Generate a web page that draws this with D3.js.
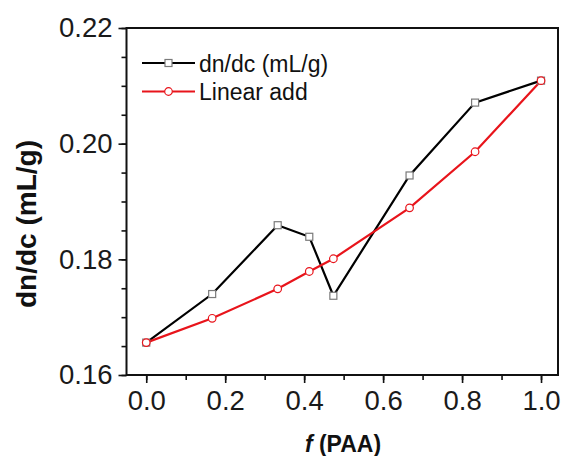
<!DOCTYPE html>
<html>
<head>
<meta charset="utf-8">
<script src="https://cdn.jsdelivr.net/npm/d3@7"></script>
<style>
  body { margin: 0; background: #fff; }
  svg { display: block; font-family: "Liberation Sans", Arial, sans-serif; }
</style>
</head>
<body>
<script>
// values
var fPAA = [0, 0.167, 0.333, 0.413, 0.474, 0.667, 0.833, 1.0];
var dndc = [0.1656, 0.1740, 0.1859, 0.1839, 0.1737, 0.1945, 0.2071, 0.2109];
var linearAdd = [0.1656, 0.1698, 0.1749, 0.1779, 0.1801, 0.1889, 0.1986, 0.2109];
var xTicks = [0, 0.2, 0.4, 0.6, 0.8, 1.0];
var yTicks = [0.16, 0.18, 0.20, 0.22];
var legendNames = ["dn/dc (mL/g)", "Linear add"];

var screen = {width: 563, height: 456};
var plot = {left: 126.5, right: 558, top: 28, bottom: 375};

var x = d3.scaleLinear()
          .domain([-0.05, 1.043])
          .range([plot.left, plot.right]);
var y = d3.scaleLinear()
          .domain([0.16, 0.22])
          .range([plot.bottom, plot.top]);

var svg = d3.select("body")
            .append("svg")
            .attr("width", screen.width)
            .attr("height", screen.height);

// minor ticks
svg.append("g")
   .attr("transform", "translate(0," + plot.bottom + ")")
   .call(d3.axisBottom(x).tickValues(d3.range(0, 1.01, 0.1)).tickSize(5).tickFormat(""))
   .call(function(g) { g.select(".domain").remove(); });
svg.append("g")
   .attr("transform", "translate(" + plot.left + ",0)")
   .call(d3.axisLeft(y).tickValues(d3.range(0.16, 0.2201, 0.005)).tickSize(5).tickFormat(""))
   .call(function(g) { g.select(".domain").remove(); });

// major ticks
var xAxis = svg.append("g")
   .attr("transform", "translate(0," + plot.bottom + ")")
   .call(d3.axisBottom(x).tickValues(xTicks).tickSize(8).tickPadding(7).tickFormat(d3.format(".1f")));
var yAxis = svg.append("g")
   .attr("transform", "translate(" + plot.left + ",0)")
   .call(d3.axisLeft(y).tickValues(yTicks).tickSize(8).tickPadding(6).tickFormat(d3.format(".2f")));

[xAxis, yAxis].forEach(function(a) {
  a.select(".domain").remove();
  a.selectAll("text").attr("font-size", 27.5).attr("fill", "#1a1a1a").attr("font-family", "Liberation Sans, Arial");
});
svg.selectAll(".tick line").attr("stroke", "#111").attr("stroke-width", 1.6);

// frame
svg.append("rect")
   .attr("x", plot.left)
   .attr("y", plot.top)
   .attr("width", plot.right - plot.left)
   .attr("height", plot.bottom - plot.top)
   .attr("fill", "none")
   .attr("stroke", "#111")
   .attr("stroke-width", 2);

var line = d3.line()
             .x(function(d) { return x(d[0]); })
             .y(function(d) { return y(d[1]); });

var blackPts = fPAA.map(function(f, i) { return [f, dndc[i]]; });
var redPts = fPAA.map(function(f, i) { return [f, linearAdd[i]]; });

svg.append("path")
   .attr("d", line(blackPts))
   .attr("fill", "none")
   .attr("stroke", "#000")
   .attr("stroke-width", 2.2);

svg.append("path")
   .attr("d", line(redPts))
   .attr("fill", "none")
   .attr("stroke", "#e8141b")
   .attr("stroke-width", 2.2);

svg.append("g")
   .selectAll("rect")
   .data(blackPts)
   .enter()
   .append("rect")
   .attr("x", function(d) { return x(d[0]) - 3.5; })
   .attr("y", function(d) { return y(d[1]) - 3.5; })
   .attr("width", 7)
   .attr("height", 7)
   .attr("fill", "#fff")
   .attr("stroke", "#7a7a7a")
   .attr("stroke-width", 1.2);

svg.append("g")
   .selectAll("circle")
   .data(redPts)
   .enter()
   .append("circle")
   .attr("cx", function(d) { return x(d[0]); })
   .attr("cy", function(d) { return y(d[1]); })
   .attr("r", 3.8)
   .attr("fill", "#fff")
   .attr("stroke", "#e8141b")
   .attr("stroke-width", 1.2);

// legend
var legend = svg.append("g").attr("transform", "translate(142,63)");
var legendColors = ["#000", "#e8141b"];
legendNames.forEach(function(name, i) {
  var g = legend.append("g").attr("transform", "translate(0," + (i * 28.5) + ")");
  g.append("line")
   .attr("x1", 0).attr("x2", 53)
   .attr("stroke", legendColors[i])
   .attr("stroke-width", 2.2);
  if (i == 0) {
    g.append("rect").attr("x", 23).attr("y", -3.5).attr("width", 7).attr("height", 7)
     .attr("fill", "#fff").attr("stroke", "#7a7a7a").attr("stroke-width", 1.2);
  } else {
    g.append("circle").attr("cx", 26.5).attr("r", 3.8)
     .attr("fill", "#fff").attr("stroke", "#e8141b").attr("stroke-width", 1.2);
  }
  g.append("text")
   .attr("x", 57)
   .attr("y", 8.5)
   .attr("font-size", 23)
   .attr("fill", "#111")
   .text(name);
});

// axis titles
svg.append("text")
   .attr("transform", "translate(36,224) rotate(-90)")
   .attr("text-anchor", "middle")
   .attr("font-size", 28)
   .attr("font-weight", "bold")
   .attr("fill", "#111")
   .text("dn/dc (mL/g)");

var xt = svg.append("text")
   .attr("x", 343)
   .attr("y", 452)
   .attr("text-anchor", "middle")
   .attr("font-size", 23)
   .attr("font-weight", "bold")
   .attr("fill", "#111");
xt.append("tspan").attr("font-style", "italic").text("f");
xt.append("tspan").text(" (PAA)");
</script>
</body>
</html>
